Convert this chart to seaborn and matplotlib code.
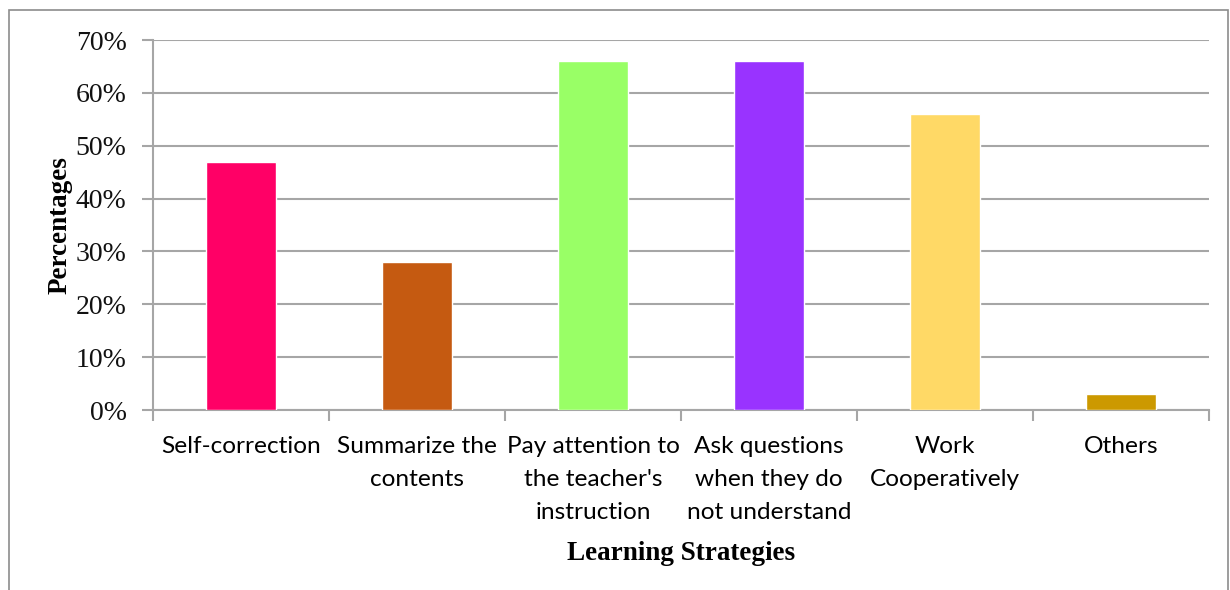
import matplotlib
matplotlib.use("Agg")
import matplotlib.pyplot as plt
import seaborn as sns
import pandas as pd
from matplotlib.patches import Rectangle
from matplotlib.ticker import FuncFormatter, FixedLocator

categories = ["Self-correction", "Summarize the\ncontents", "Pay attention to\nthe teacher's\ninstruction",
              "Ask questions\nwhen they do\nnot understand", "Work\nCooperatively", "Others"]
values = [47, 28, 66, 66, 56, 3]
colors = ["#FF0066", "#C55A11", "#99FF66", "#9933FF", "#FFD966", "#CC9900"]
yticks = [0, 10, 20, 30, 40, 50, 60, 70]

sns.set_theme(style="white")
df = pd.DataFrame({"cat": categories, "val": values})

fig = plt.figure(figsize=(12.3, 5.9), dpi=100)
ax = fig.add_axes([153/1230, 1-410/590, (1209-153)/1230, 370/590])
sns.barplot(data=df, x="cat", y="val", hue="cat", palette=colors, legend=False,
            width=0.4, saturation=1, ax=ax, zorder=3)

grid_c = "#A6A6A6"
ax.set_ylim(0, 70)
ax.set_xlim(-0.5, len(categories) - 0.5)
ax.yaxis.set_major_locator(FixedLocator(yticks))
ax.yaxis.set_major_formatter(FuncFormatter(lambda v, p: f"{int(v)}%"))
ax.grid(axis="y", color=grid_c, linewidth=1.5, zorder=0)
ax.set_axisbelow(True)
for s in ["top", "right"]:
    ax.spines[s].set_visible(False)
for s in ["left", "bottom"]:
    ax.spines[s].set_color(grid_c)
    ax.spines[s].set_linewidth(1.5)

ax.tick_params(axis="y", which="major", length=8, width=1.5, color=grid_c, direction="out",
               left=True, labelsize=20, pad=11, labelcolor="#111111")
for lbl in ax.get_yticklabels():
    lbl.set_fontfamily("Liberation Serif")
ax.set_xticks(range(len(categories)))
ax.set_xticklabels(categories, fontfamily="Lato", fontsize=17.6, linespacing=1.68)
ax.tick_params(axis="x", which="major", length=0, pad=19, labelcolor="#000000")
ax.set_xticks([i - 0.5 for i in range(len(categories) + 1)], minor=True)
ax.tick_params(axis="x", which="minor", length=8, width=1.5, color=grid_c, direction="out", bottom=True)

ax.set_xlabel("Learning Strategies", fontfamily="Liberation Serif", fontweight="bold", fontsize=19.5, color="black")
ax.set_ylabel("Percentages", fontfamily="Liberation Serif", fontweight="bold", fontsize=19.5, color="black")
ax.xaxis.label.set_va("center")
ax.xaxis.set_label_coords(0.5, (410 - 553) / 370)
ax.yaxis.label.set_va("center")
ax.yaxis.set_label_coords((60 - 153) / 1056, 0.5)

fig.patches.append(Rectangle((9/1230, -0.01), (1228-9)/1230, 1 - 10/590 + 0.01,
                             transform=fig.transFigure, fill=False, edgecolor="#8C8C8C",
                             linewidth=1.2, zorder=0))

fig.savefig("out.png", dpi=100)
